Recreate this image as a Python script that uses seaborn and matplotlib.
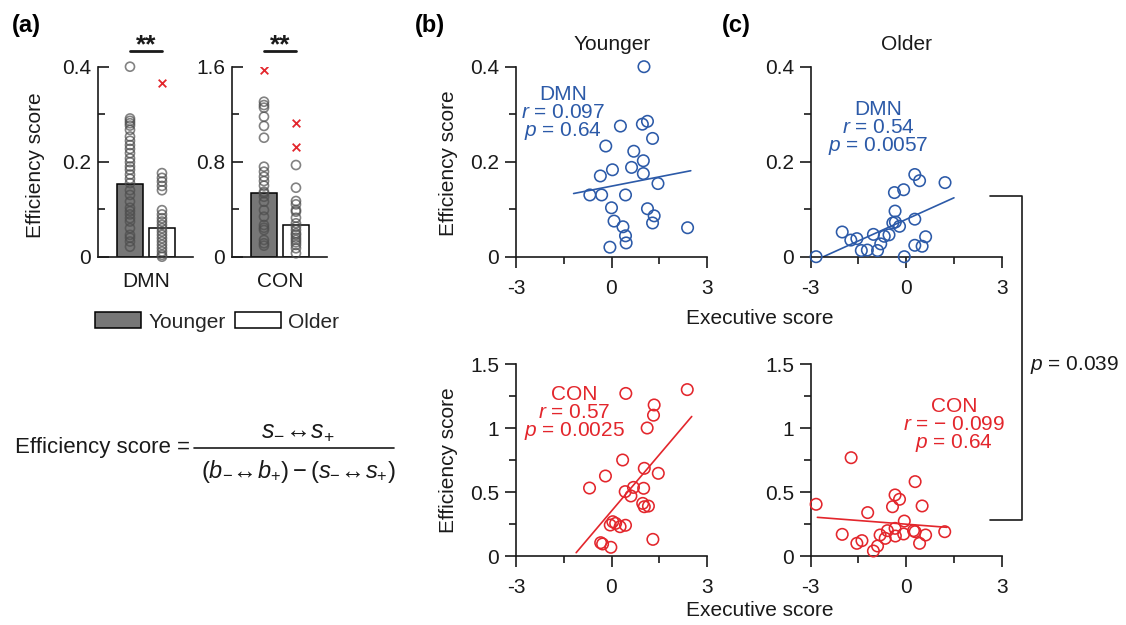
import numpy as np
import pandas as pd
import matplotlib
matplotlib.use("Agg")
import matplotlib.pyplot as plt
from matplotlib.patches import Patch
from matplotlib.lines import Line2D
import seaborn as sns

# ---------------- data ----------------
groups = ["Younger", "Older"]
networks = ["DMN", "CON"]

# (a) bar means
dmn_bar = [0.152, 0.060]
con_bar = [0.539, 0.269]

# (a) individual points
dmn_young_pts = [0.400, 0.291, 0.286, 0.281, 0.276, 0.267, 0.253, 0.244, 0.235, 0.227,
                 0.218, 0.207, 0.199, 0.190, 0.183, 0.173, 0.164, 0.155, 0.140, 0.130,
                 0.116, 0.103, 0.096, 0.089, 0.081, 0.074, 0.060, 0.046, 0.040, 0.032, 0.021]
dmn_old_pts = [0.176, 0.166, 0.158, 0.149, 0.140, 0.098, 0.089, 0.081, 0.074, 0.067,
               0.060, 0.053, 0.046, 0.039, 0.032, 0.025, 0.018, 0.011, 0.004, 0.000]
dmn_old_outliers = [0.365]
con_young_pts = [1.305, 1.277, 1.255, 1.179, 1.101, 1.002, 0.758, 0.716, 0.674, 0.637,
                 0.598, 0.547, 0.534, 0.505, 0.463, 0.393, 0.337, 0.267, 0.244, 0.225,
                 0.141, 0.113, 0.093]
con_young_outliers = [1.572]
con_old_pts = [0.772, 0.581, 0.469, 0.441, 0.393, 0.379, 0.328, 0.281, 0.253, 0.225,
               0.197, 0.183, 0.160, 0.141, 0.121, 0.099, 0.071, 0.029]
con_old_outliers = [1.123, 0.926]

# (b) younger, DMN
yd_exec = [1.02, 0.97, 1.13, 0.28, 1.29, -0.18, 0.70, 1.00, 0.03, 0.63, -0.35, 1.00, 1.46,
           -0.68, -0.31, 0.44, 0.00, 1.13, 1.34, 1.29, 0.08, 0.36, 0.44, 0.46, -0.05, 2.39]
yd_eff = [0.400, 0.279, 0.285, 0.275, 0.249, 0.233, 0.222, 0.202, 0.183, 0.188, 0.170, 0.175, 0.154,
          0.130, 0.130, 0.130, 0.103, 0.101, 0.086, 0.071, 0.075, 0.063, 0.044, 0.029, 0.020, 0.061]
yd_fit_x = [-1.19, 2.49]
yd_fit_y = [0.133, 0.181]

# (c) older, DMN
od_exec = [-2.83, -2.01, -1.74, -1.55, -1.41, -1.22, -1.03, -0.90, -0.80, -0.69, -0.54, -0.42, -0.34,
           -0.35, -0.21, -0.37, -0.08, -0.06, 0.27, 0.27, 0.42, 0.27, 0.50, 0.61, 1.22]
od_eff = [0.000, 0.052, 0.035, 0.038, 0.013, 0.014, 0.047, 0.013, 0.027, 0.043, 0.046, 0.071, 0.073,
          0.096, 0.064, 0.135, 0.141, 0.000, 0.079, 0.173, 0.160, 0.024, 0.022, 0.042, 0.156]
od_fit_x = [-2.60, 1.50]
od_fit_y = [0.000, 0.124]

# (b) younger, CON
yc_exec = [0.45, 2.38, 1.34, 1.32, 1.12, 0.35, 1.03, 1.47, -0.19, -0.69, 0.43, 0.69, 0.61,
           1.01, 0.98, 1.03, 1.16, 0.04, 0.13, -0.04, 0.27, 0.44, -0.34, -0.28, -0.02, 1.30]
yc_eff = [1.27, 1.30, 1.18, 1.10, 1.00, 0.75, 0.685, 0.646, 0.625, 0.531, 0.503, 0.536, 0.469,
          0.529, 0.411, 0.385, 0.390, 0.268, 0.255, 0.242, 0.229, 0.240, 0.104, 0.094, 0.068, 0.130]
yc_fit_x = [-1.11, 2.52]
yc_fit_y = [0.026, 1.09]

# (c) older, CON
oc_exec = [-1.73, 0.28, -2.83, -0.35, -0.21, -0.43, 0.50, -1.21, -0.06, -2.01, -1.55, -1.39, -1.03,
           -0.90, -0.82, -0.66, -0.59, -0.35, -0.34, -0.08, 0.23, 0.28, 0.42, 0.61, 1.21]
oc_eff = [0.768, 0.581, 0.404, 0.477, 0.443, 0.385, 0.391, 0.339, 0.273, 0.169, 0.099, 0.120, 0.039,
          0.078, 0.164, 0.138, 0.198, 0.216, 0.156, 0.172, 0.198, 0.190, 0.099, 0.164, 0.190]
oc_fit_x = [-2.79, 1.28]
oc_fit_y = [0.302, 0.224]

x_ticks = [-3, 0, 3]
x_ticklabels = ["-3", "0", "3"]
x_minor = [-1.5, 1.5]
dmn_yticks = [0, 0.2, 0.4]
dmn_yticklabels = ["0", "0.2", "0.4"]
dmn_yminor = [0.1, 0.3]
con_a_yticks = [0, 0.8, 1.6]
con_a_yticklabels = ["0", "0.8", "1.6"]
con_a_yminor = [0.4, 1.2]
con_yticks = [0, 0.5, 1, 1.5]
con_yticklabels = ["0", "0.5", "1", "1.5"]
con_yminor = [0.25, 0.75, 1.25]

# ---------------- style ----------------
sns.set_theme(style="ticks")
plt.rcParams["font.family"] = ["Liberation Sans", "DejaVu Sans"]
plt.rcParams["mathtext.fontset"] = "custom"
plt.rcParams["mathtext.rm"] = "Liberation Sans"
plt.rcParams["mathtext.it"] = "Liberation Sans:italic"
plt.rcParams["mathtext.bf"] = "Liberation Sans:bold"
plt.rcParams["axes.unicode_minus"] = False

BLUE = "#2c5aa8"
RED = "#e3262c"
DARK = "#1a1a1a"
BAR_GRAY = "#777777"
FS = 15

W, H = 1126, 625
fig = plt.figure(figsize=(W / 100, H / 100), dpi=100)


def px_axes(left, right, top, bottom):
    return fig.add_axes([left / W, 1 - bottom / H, (right - left) / W, (bottom - top) / H])


def ftext(x, y, s, **kw):
    kw.setdefault("fontsize", FS)
    kw.setdefault("color", DARK)
    return fig.text(x / W, 1 - y / H, s, **kw)


def fline(xs, ys, **kw):
    kw.setdefault("color", DARK)
    kw.setdefault("lw", 1.2)
    fig.add_artist(Line2D([x / W for x in xs], [1 - y / H for y in ys],
                          transform=fig.transFigure, **kw))


def style_axes(ax, direction):
    sns.despine(ax=ax)
    for sp in ["left", "bottom"]:
        ax.spines[sp].set_linewidth(1.2)
        ax.spines[sp].set_color(DARK)
    ax.tick_params(which="major", direction=direction, length=8, width=1.2,
                   colors=DARK, labelsize=FS)
    ax.tick_params(which="minor", direction=direction, length=5, width=1.2, colors=DARK)
    ax.set_xlabel("")
    ax.set_ylabel("")
    ax.patch.set_alpha(0)


# ---------------- panel (a) ----------------
def bar_panel(ax, name, bars, young_pts, old_pts, young_out, old_out, ymax,
              yticks, yticklabels, yminor):
    dfb = pd.DataFrame({"group": groups, "value": bars})
    sns.barplot(data=dfb, x="group", y="value", hue="group", order=groups,
                palette={"Younger": BAR_GRAY, "Older": "white"}, edgecolor="black",
                linewidth=1.1, width=0.84, legend=False, ax=ax, errorbar=None)
    dfp = pd.DataFrame({"group": ["Younger"] * len(young_pts) + ["Older"] * len(old_pts),
                        "value": young_pts + old_pts})
    n0 = len(ax.collections)
    sns.stripplot(data=dfp, x="group", y="value", order=groups, jitter=False,
                  size=6.5, color="0.3", ax=ax, zorder=3)
    for c in ax.collections[n0:]:
        c.set_facecolor("none")
        c.set_edgecolor((0.3, 0.3, 0.3, 0.7))
        c.set_linewidth(1.2)
        c.set_clip_on(False)
    dfo = pd.DataFrame({"group": ["Younger"] * len(young_out) + ["Older"] * len(old_out),
                        "value": young_out + old_out})
    n0 = len(ax.collections)
    sns.stripplot(data=dfo, x="group", y="value", order=groups, jitter=False,
                  marker="x", size=5.5, color=RED, linewidth=1.3, ax=ax, zorder=4)
    for c in ax.collections[n0:]:
        c.set_edgecolor(RED)
        c.set_facecolor(RED)
        c.set_linewidth(1.3)
    ax.set_xlim(-1.0, 1.97)
    ax.set_ylim(0, ymax)
    style_axes(ax, "in")
    ax.set_yticks(yticks)
    ax.set_yticklabels(yticklabels)
    ax.set_yticks(yminor, minor=True)
    ax.set_xticks([0.5])
    ax.set_xticklabels([name])
    ax.tick_params(axis="x", length=0, pad=11, labelsize=FS)
    ax.tick_params(axis="y", which="both", pad=5)
    # significance bar
    sig_y = ymax * 1.083
    ax.plot([0, 1], [sig_y, sig_y], color=DARK, lw=2.0, clip_on=False)
    ax.text(0.5, ymax * 1.075, "**", ha="center", va="baseline", fontsize=19,
            fontweight="bold", color=DARK, clip_on=False)


ax_a1 = px_axes(98, 193, 66.7, 256.7)
bar_panel(ax_a1, "DMN", dmn_bar, dmn_young_pts, dmn_old_pts, [], dmn_old_outliers, 0.4,
          dmn_yticks, dmn_yticklabels, dmn_yminor)
ax_a2 = px_axes(232, 327, 66.7, 256.7)
bar_panel(ax_a2, "CON", con_bar, con_young_pts, con_old_pts, con_young_outliers,
          con_old_outliers, 1.6, con_a_yticks, con_a_yticklabels, con_a_yminor)

fig.legend(handles=[Patch(facecolor=BAR_GRAY, edgecolor="black", lw=1.1, label="Younger"),
                    Patch(facecolor="white", edgecolor="black", lw=1.1, label="Older")],
           loc="center left", bbox_to_anchor=(95 / W, 1 - 322 / H), ncol=2, frameon=False,
           fontsize=FS, handlelength=2.2, handleheight=0.8, handletextpad=0.35,
           columnspacing=0.45, borderaxespad=0, borderpad=0)


# ---------------- scatter panels ----------------
def scatter_panel(ax, ex, ef, fx, fy, color, ymax, yticks, yticklabels, yminor):
    n0 = len(ax.collections)
    sns.scatterplot(x=ex, y=ef, ax=ax, s=68, color=color, clip_on=False, zorder=3)
    for c in ax.collections[n0:]:
        c.set_facecolor("none")
        c.set_edgecolor(color)
        c.set_linewidth(1.15)
    sns.lineplot(x=fx, y=fy, ax=ax, color=color, lw=1.2)
    ax.set_xlim(-3, 3)
    ax.set_ylim(0, ymax)
    style_axes(ax, "out")
    ax.set_xticks(x_ticks)
    ax.set_xticklabels(x_ticklabels)
    ax.set_xticks(x_minor, minor=True)
    ax.set_yticks(yticks)
    ax.set_yticklabels(yticklabels)
    ax.set_yticks(yminor, minor=True)
    ax.tick_params(axis="x", which="major", pad=8)
    ax.tick_params(axis="y", which="major", pad=4)


ax_b1 = px_axes(516, 707, 66.7, 256.7)
scatter_panel(ax_b1, yd_exec, yd_eff, yd_fit_x, yd_fit_y, BLUE, 0.4,
              dmn_yticks, dmn_yticklabels, dmn_yminor)
ax_c1 = px_axes(810.7, 1001.7, 66.7, 256.7)
scatter_panel(ax_c1, od_exec, od_eff, od_fit_x, od_fit_y, BLUE, 0.4,
              dmn_yticks, dmn_yticklabels, dmn_yminor)
ax_b2 = px_axes(516, 707, 364, 556)
scatter_panel(ax_b2, yc_exec, yc_eff, yc_fit_x, yc_fit_y, RED, 1.5,
              con_yticks, con_yticklabels, con_yminor)
ax_c2 = px_axes(810.7, 1001.7, 364, 556)
scatter_panel(ax_c2, oc_exec, oc_eff, oc_fit_x, oc_fit_y, RED, 1.5,
              con_yticks, con_yticklabels, con_yminor)

# ---------------- texts ----------------
ftext(12, 14, "(a)", fontsize=17, fontweight="bold", va="top", color="black")
ftext(415, 14, "(b)", fontsize=17, fontweight="bold", va="top", color="black")
ftext(722, 14, "(c)", fontsize=17, fontweight="bold", va="top", color="black")

ftext(612, 50, "Younger", ha="center", va="baseline")
ftext(906, 50, "Older", ha="center", va="baseline")

ftext(36, 165, "Efficiency score", rotation=90, ha="center", va="center")
ftext(448, 163, "Efficiency score", rotation=90, ha="center", va="center")
ftext(448, 460, "Efficiency score", rotation=90, ha="center", va="center")
ftext(760, 319, "Executive score", ha="center", va="center")
ftext(760, 610, "Executive score", ha="center", va="center")

# stats annotations
for (cx, bases, lines, col) in [
    (563, (100, 118, 136), ("DMN", "$r$ = 0.097", "$p$ = 0.64"), BLUE),
    (878, (115, 133, 151.5), ("DMN", "$r$ = 0.54", "$p$ = 0.0057"), BLUE),
    (574, (400, 418, 436), ("CON", "$r$ = 0.57", "$p$ = 0.0025"), RED),
    (954, (411.7, 430, 448.3), ("CON", "$r$ = \u2212 0.099", "$p$ = 0.64"), RED),
]:
    for b, s in zip(bases, lines):
        ftext(cx, b, s, ha="center", va="baseline", color=col)

# bracket between older panels
fline([990, 1022, 1022, 990], [196, 196, 520, 520], lw=1.2)
ftext(1030, 365, "$p$ = 0.039", ha="left", va="center")

# formula
ftext(15, 447, "Efficiency score =", ha="left", va="center", fontsize=16)
fline([194, 394], [447.5, 447.5], lw=1.2)
ftext(298, 438, r"$s_{-}\!\leftrightarrow\! s_{+}$", ha="center", va="baseline", fontsize=18)
ftext(298, 478, r"$(b_{-}\!\leftrightarrow\! b_{+}) - (s_{-}\!\leftrightarrow\! s_{+})$",
      ha="center", va="baseline", fontsize=17)

fig.savefig("out.png", dpi=100, facecolor="white")
